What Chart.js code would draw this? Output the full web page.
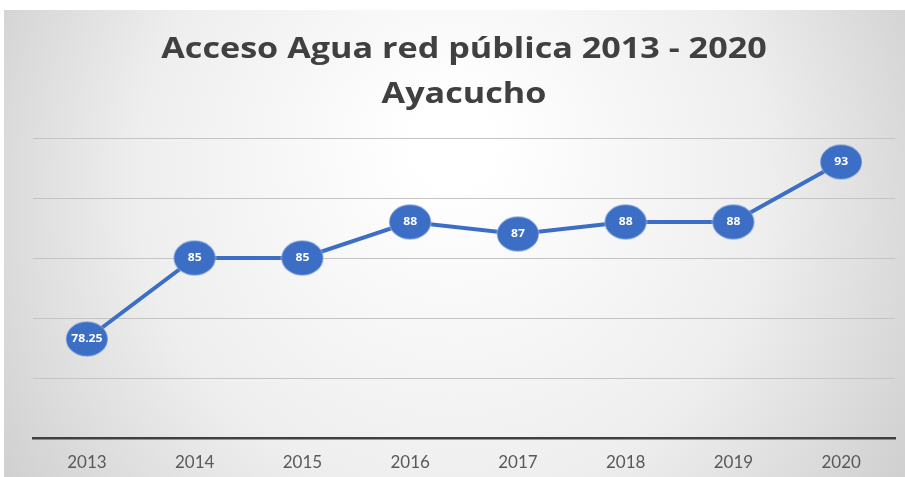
<!DOCTYPE html>
<html>
<head>
<meta charset="utf-8">
<script src="https://cdn.jsdelivr.net/npm/chart.js@4/dist/chart.umd.min.js"></script>
<style>
  html, body { margin: 0; padding: 0; background: #fff; }
  #wrap { width: 905px; height: 477px; }
</style>
</head>
<body>
<div id="wrap"><canvas id="chart" width="905" height="477"></canvas></div>
<script>
// Years and access values (%)
const years = ["2013", "2014", "2015", "2016", "2017", "2018", "2019", "2020"];
const acceso = [78.25, 85, 85, 88, 87, 88, 88, 93];
const valueLabels = ["78.25", "85", "85", "88", "87", "88", "88", "93"];
const titleLines = ["Acceso Agua red pública 2013 - 2020", "Ayacucho"];

const BLUE = "#3d6ec5";
const STRETCH = 1.22; // wide text / markers, like the rest of the drawing

// Oval marker used as pointStyle
function makeMarker() {
    const c = document.createElement("canvas");
    c.width = 44;
    c.height = 37;
    const x = c.getContext("2d");
    x.beginPath();
    x.ellipse(22, 18.5, 21, 17.5, 0, 0, Math.PI * 2);
    x.fillStyle = BLUE;
    x.fill();
    x.lineWidth = 1;
    x.strokeStyle = "rgba(255,255,255,0.4)";
    x.stroke();
    return c;
}

// Soft radial background behind the whole chart
const backdrop = {
    id: "backdrop",
    beforeDraw(chart) {
        const ctx = chart.ctx;
        const w = chart.width, h = chart.height;
        ctx.save();
        ctx.fillStyle = "#ffffff";
        ctx.fillRect(0, 0, w, h);
        const g = ctx.createRadialGradient(w / 2, h * 0.3, 40, w / 2, h * 0.45, w * 0.6);
        g.addColorStop(0, "#ffffff");
        g.addColorStop(0.55, "#eeeeee");
        g.addColorStop(1, "#cdcdcd");
        ctx.fillStyle = g;
        ctx.fillRect(4, 10, w - 4, h - 10);
        ctx.restore();
    }
};

// Two-line title, stretched horizontally
const wideTitle = {
    id: "wideTitle",
    afterDraw(chart) {
        const ctx = chart.ctx;
        const cx = (chart.chartArea.left + chart.chartArea.right) / 2;
        ctx.save();
        ctx.fillStyle = "#404040";
        ctx.font = "bold 28px 'Open Sans', sans-serif";
        ctx.textAlign = "center";
        ctx.textBaseline = "alphabetic";
        [58, 103].forEach((y, i) => {
            ctx.save();
            ctx.translate(cx, y);
            ctx.scale(STRETCH, 1);
            ctx.fillText(titleLines[i], 0, 0);
            ctx.restore();
        });
        ctx.restore();
    }
};

// White value text inside every marker
const pointLabels = {
    id: "pointLabels",
    afterDatasetsDraw(chart) {
        const ctx = chart.ctx;
        const meta = chart.getDatasetMeta(0);
        ctx.save();
        ctx.fillStyle = "#ffffff";
        ctx.font = "bold 10px 'Open Sans', sans-serif";
        ctx.textAlign = "center";
        ctx.textBaseline = "middle";
        meta.data.forEach((pt, i) => {
            ctx.save();
            ctx.translate(pt.x, pt.y);
            ctx.scale(STRETCH, 1);
            ctx.fillText(valueLabels[i], 0, 0);
            ctx.restore();
        });
        ctx.restore();
    }
};

new Chart(document.getElementById("chart"), {
    type: "line",
    data: {
        labels: years,
        datasets: [{
            data: acceso,
            borderColor: BLUE,
            borderWidth: 4,
            backgroundColor: BLUE,
            pointStyle: makeMarker(),
            pointRadius: 18,
            pointHoverRadius: 18,
            tension: 0
        }]
    },
    options: {
        responsive: false,
        animation: false,
        layout: {
            autoPadding: false,
            padding: { left: 33, right: 10, top: 138, bottom: 0 }
        },
        plugins: {
            legend: { display: false },
            tooltip: { enabled: false },
            title: { display: false }
        },
        scales: {
            x: {
                offset: true,
                grid: { display: false, drawTicks: false },
                border: { display: true, color: "#404040", width: 2.5 },
                ticks: {
                    color: "#595959",
                    padding: 14,
                    font: { family: "Lato", size: 17 }
                },
                afterFit(scale) {
                    scale.height = 39;
                }
            },
            y: {
                min: 70,
                max: 95,
                ticks: { display: false, stepSize: 5 },
                border: { display: false },
                grid: { color: "#c4c4c4", lineWidth: 1, drawTicks: false }
            }
        }
    },
    plugins: [backdrop, wideTitle, pointLabels]
});
</script>
</body>
</html>
